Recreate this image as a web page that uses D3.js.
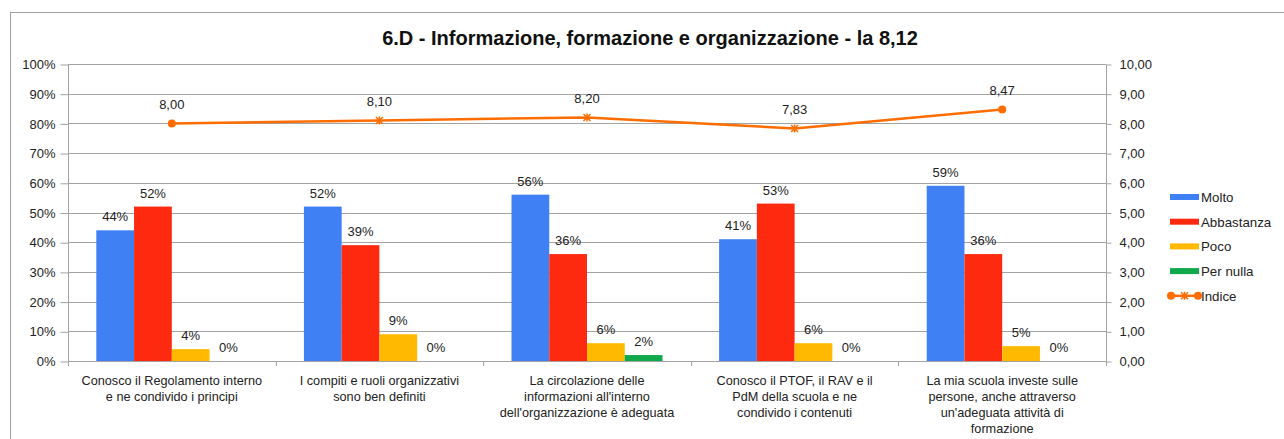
<!DOCTYPE html>
<html><head><meta charset="utf-8">
<script src="https://cdn.jsdelivr.net/npm/d3@7"></script>
<style>body{margin:0;background:#fff}text{font-family:"Liberation Sans",Arial,sans-serif}</style>
</head><body>
<svg id="c" width="1284" height="439"></svg>
<script>
const categories = [
  "Conosco il Regolamento interno\ne ne condivido i principi",
  "I compiti e ruoli organizzativi\nsono ben definiti",
  "La circolazione delle\ninformazioni all'interno\ndell'organizzazione è adeguata",
  "Conosco il PTOF, il RAV e il\nPdM della scuola e ne\ncondivido i contenuti",
  "La mia scuola investe sulle\npersone, anche attraverso\nun'adeguata attività di\nformazione"
];
const seriesNames = ["Molto", "Abbastanza", "Poco", "Per nulla"];
const molto = [44, 52, 56, 41, 59];
const abbastanza = [52, 39, 36, 53, 36];
const poco = [4, 9, 6, 6, 5];
const perNulla = [0, 0, 2, 0, 0];
const indice = [8.00, 8.10, 8.20, 7.83, 8.47];
const indiceMarkers = ["circle", "star", "star", "star", "circle"];
const leftTicks = [0,10,20,30,40,50,60,70,80,90,100];
const rightTicks = [0,1,2,3,4,5,6,7,8,9,10];
const title = "6.D - Informazione, formazione e organizzazione - la 8,12";
const colors = ["#3f80f5", "#fd2a10", "#ffba00", "#0fa84a"];
const lineColor = "#ff6d00";

const svg = d3.select("#c");
const L = 68, R = 1106, T = 64, B = 361;
svg.append("rect").attr("x",10.5).attr("y",12.5).attr("width",1300).attr("height",500)
  .attr("fill","none").attr("stroke","#a0a0a0");

svg.append("text").attr("x",650).attr("y",45).attr("text-anchor","middle")
  .attr("font-size","20px").attr("font-weight","bold").attr("fill","#111").text(title);

const x = d3.scaleBand().domain(d3.range(categories.length)).range([L, R]).paddingInner(0).paddingOuter(0);
const y = d3.scaleLinear().domain([0,100]).range([B, T]);
const y2 = d3.scaleLinear().domain([0,10]).range([B, T]);
const xs = d3.scaleBand().domain(d3.range(4)).range([0, x.bandwidth()]).paddingInner(0).paddingOuter(0.75);

svg.append("g").selectAll("line").data(leftTicks.filter(d=>d>0)).join("line")
  .attr("x1",L).attr("x2",R).attr("y1",d=>Math.round(y(d))+0.5).attr("y2",d=>Math.round(y(d))+0.5)
  .attr("stroke","#a3a3a3").attr("stroke-width",1);

const gl = svg.append("g").attr("transform",`translate(${L+0.5},0.5)`)
  .call(d3.axisLeft(y).tickValues(leftTicks).tickFormat(d=>d+"%").tickSize(8).tickPadding(5));
gl.selectAll("path,line").attr("stroke","#a3a3a3");
gl.selectAll("text").attr("font-size","13px").attr("fill","#222").attr("font-family","Liberation Sans, Arial");
gl.select(".domain").attr("d",`M0,${T}V${B}`);

const gr = svg.append("g").attr("transform",`translate(${R+0.5},0.5)`)
  .call(d3.axisRight(y2).tickValues(rightTicks).tickFormat(d=>d3.format(".2f")(d).replace(".",",")).tickSize(5).tickPadding(8));
gr.selectAll("path,line").attr("stroke","#a3a3a3");
gr.selectAll("text").attr("font-size","13px").attr("fill","#222").attr("font-family","Liberation Sans, Arial");
gr.select(".domain").attr("d",`M0,${T}V${B}`);

const series = [molto, abbastanza, poco, perNulla];
series.forEach((vals, si) => {
  const g = svg.append("g");
  g.selectAll("rect").data(vals).join("rect")
    .attr("x",(d,i)=>x(i)+xs(si)).attr("width",xs.bandwidth())
    .attr("y",d=>y(d)).attr("height",d=>B-y(d)).attr("fill",colors[si]);
  g.selectAll("text").data(vals).join("text")
    .attr("x",(d,i)=>x(i)+xs(si)+xs.bandwidth()/2).attr("y",d=>y(d)-9)
    .attr("text-anchor","middle").attr("font-size","13px").attr("fill","#222").text(d=>d+"%");
});

svg.append("line").attr("x1",L).attr("x2",R).attr("y1",B+0.5).attr("y2",B+0.5).attr("stroke","#a3a3a3");
svg.append("g").selectAll("line").data(d3.range(categories.length+1)).join("line")
  .attr("x1",i=>Math.round(L + i*x.bandwidth())+0.5).attr("x2",i=>Math.round(L + i*x.bandwidth())+0.5)
  .attr("y1",B).attr("y2",B+5).attr("stroke","#a3a3a3");

categories.forEach((c,i)=>{
  const t = svg.append("text").attr("x",x(i)+x.bandwidth()/2).attr("y",385)
    .attr("text-anchor","middle").attr("font-size","12.7px").attr("fill","#222");
  c.split("\n").forEach((ln,k)=>t.append("tspan").attr("x",x(i)+x.bandwidth()/2).attr("dy",k?16:0).text(ln));
});

const cx = i => x(i)+x.bandwidth()/2;
svg.append("path").datum(indice)
  .attr("d",d3.line().x((d,i)=>cx(i)).y(d=>y2(d)))
  .attr("fill","none").attr("stroke",lineColor).attr("stroke-width",2.5);
function marker(g, type, px, py){
  if(type==="circle"){
    g.append("circle").attr("cx",px).attr("cy",py).attr("r",4).attr("fill",lineColor);
  } else {
    const s=3.5;
    g.append("path").attr("d",`M${px-s},${py-s}L${px+s},${py+s}M${px-s},${py+s}L${px+s},${py-s}M${px},${py-s-0.5}L${px},${py+s+0.5}`)
      .attr("stroke",lineColor).attr("stroke-width",1.5);
  }
}
const mg = svg.append("g");
indice.forEach((d,i)=>marker(mg, indiceMarkers[i], cx(i), y2(d)));
svg.append("g").selectAll("text").data(indice).join("text")
  .attr("x",(d,i)=>cx(i)).attr("y",d=>y2(d)-14).attr("text-anchor","middle")
  .attr("font-size","13px").attr("fill","#222").text(d=>d3.format(".2f")(d).replace(".",","));

const legNames = seriesNames.concat(["Indice"]);
const lg = svg.append("g");
legNames.forEach((n,k)=>{
  const ly = 197 + k*24.7;
  if(k<4){
    lg.append("rect").attr("x",1170).attr("y",ly-3).attr("width",29).attr("height",6).attr("fill",colors[k]);
  } else {
    lg.append("line").attr("x1",1170).attr("x2",1199).attr("y1",ly).attr("y2",ly).attr("stroke",lineColor).attr("stroke-width",2.5);
    marker(lg,"circle",1171,ly); marker(lg,"star",1184.5,ly); marker(lg,"circle",1198,ly);
  }
  lg.append("text").attr("x",1201).attr("y",ly+5).attr("font-size","13.3px").attr("fill","#222").text(n);
});
</script>
</body></html>
